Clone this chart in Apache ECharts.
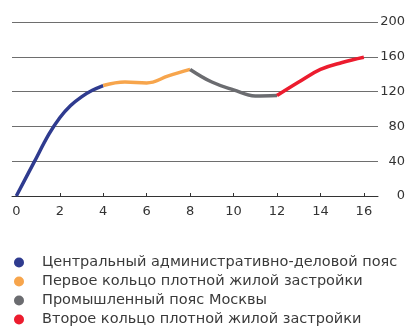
<!DOCTYPE html>
<html>
<head>
<meta charset="utf-8">
<script src="https://cdn.jsdelivr.net/npm/echarts@6/dist/echarts.min.js"></script>
<style>
  html, body { margin: 0; padding: 0; background: #fff; }
  #chart { width: 417px; height: 327px; }
</style>
</head>
<body>
<div id="chart"></div>
<script>
// segment names (legend)
const names = [
  'Центральный административно-деловой пояс',
  'Первое кольцо плотной жилой застройки',
  'Промышленный пояс Москвы',
  'Второе кольцо плотной жилой застройки'
];
const colors = ['#2f3b8f', '#f7a54c', '#6b6c70', '#ec1c2e'];

// [x, y] values, one array per segment
const central = [[0, 0], [0.8, 38], [1.5, 71], [2, 90], [2.5, 104], [3, 114], [3.5, 121.5], [4, 127]];
const firstRing = [[4, 127], [5, 131], [6, 130], [7, 138], [8, 145.5]];
const industrial = [[8, 145.5], [9, 131], [10, 122], [11, 115], [12, 115.5]];
const secondRing = [[12, 115.5], [13, 131], [14, 145.5], [15, 153.5], [16, 159.5]];

const xTicks = [0, 2, 4, 6, 8, 10, 12, 14, 16];

const font = 'DejaVu Sans';
const chart = echarts.init(document.getElementById('chart'));

const segments = [central, firstRing, industrial, secondRing];

// one legend per row so nothing wraps into a second column
const legends = names.map((n, i) => ({
  orient: 'vertical',
  left: 14,
  top: 255 + i * 19,
  padding: 0,
  itemWidth: 10,
  itemHeight: 10,
  icon: 'circle',
  textStyle: { fontFamily: font, fontSize: 14.5, color: '#3a3a3a', lineHeight: 14, padding: [0, 0, 0, 13] },
  data: [n]
}));

chart.setOption({
  animation: false,
  textStyle: { fontFamily: font },
  grid: { left: 12, right: 39, top: 22, bottom: 131 },
  legend: legends,
  xAxis: {
    type: 'value',
    min: -0.2,
    max: 16.65,
    splitLine: { show: false },
    axisLine: { show: true, lineStyle: { color: '#333', width: 1 } },
    axisTick: { show: true, inside: true, length: 3, customValues: xTicks, lineStyle: { color: '#333' } },
    axisLabel: { customValues: xTicks, color: '#333', fontSize: 13, margin: 9, fontFamily: font }
  },
  yAxis: {
    type: 'value',
    position: 'right',
    min: 0,
    max: 200,
    interval: 40,
    axisLine: { show: false },
    axisTick: { show: false },
    splitLine: { lineStyle: { color: '#6e6e6e', width: 1 } },
    axisLabel: { align: 'right', margin: 27, color: '#333', fontSize: 13, fontFamily: font }
  },
  series: segments.map((d, i) => ({
    name: names[i],
    type: 'line',
    data: d,
    smooth: 0.4,
    showSymbol: false,
    symbol: 'circle',
    color: colors[i],
    lineStyle: { width: 3.5, color: colors[i] }
  }))
});
</script>
</body>
</html>
